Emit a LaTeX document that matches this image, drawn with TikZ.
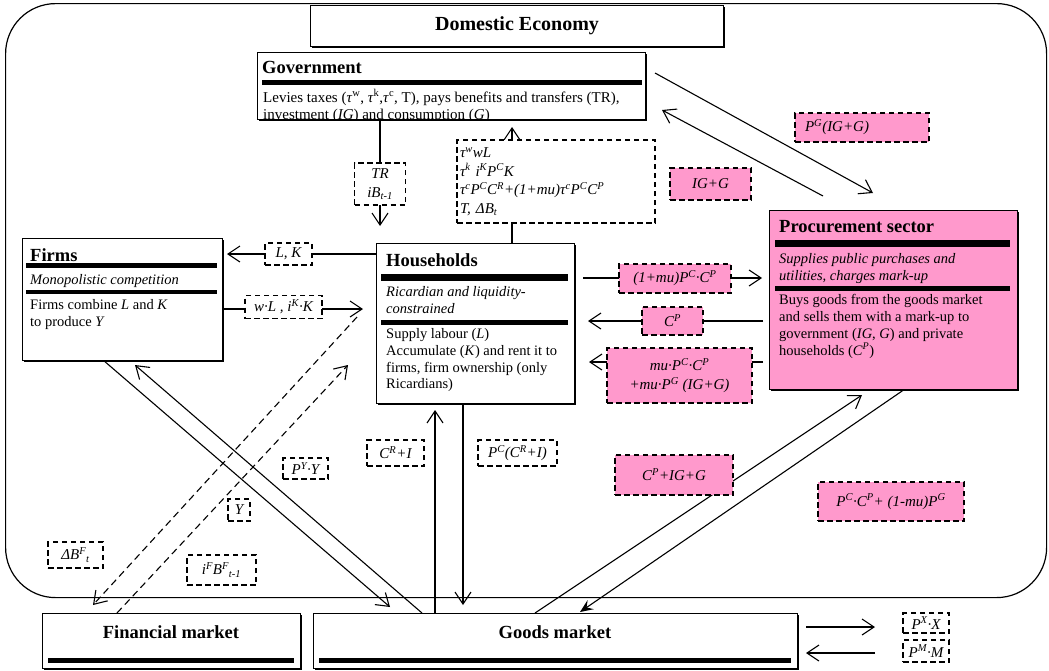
\documentclass[tikz,border=0pt]{standalone}
\usepackage{fontspec}
\setmainfont{Liberation Serif}
\usetikzlibrary{arrows.meta,shadows,calc}
\definecolor{pk}{HTML}{FF99CC}
\newcommand\supx[1]{\textsuperscript{#1}}
\newcommand\subx[1]{\textsubscript{#1}}
\pgfdeclarelayer{back}
\pgfdeclarelayer{bg}
\pgfsetlayers{back,bg,main}
\begin{document}
\begin{tikzpicture}[x=1pt,y=-1pt,
 bx/.style={draw, line width=1pt, fill=white, anchor=north west, inner sep=0pt,
   drop shadow={shadow xshift=1.6pt, shadow yshift=-1.6pt, fill=black, opacity=1}},
 ttl/.style={font=\fontsize{18.5}{21}\selectfont\bfseries, inner sep=0pt, anchor=west},
 bodyt/.style={font=\fontsize{14.5}{16.7}\selectfont, align=left, inner sep=0pt, anchor=north west},
 itt/.style={bodyt, font=\fontsize{14.5}{16.7}\selectfont\itshape},
 lbl/.style={draw, dash pattern=on 5.5pt off 3.5pt, line width=1.2pt, fill=white, inner sep=1pt,
   font=\fontsize{15}{18.7}\selectfont\itshape, align=center},
 plbl/.style={lbl, fill=pk},
 con/.style={line width=1.1pt},
 arr/.style={line width=1.1pt, -{Straight Barb[length=12pt,width=16pt,line width=1.1pt]}},
 darr/.style={arr, dash pattern=on 7pt off 4.5pt},
 parr/.style={line width=1.1pt, -{Stealth[length=13pt,width=11pt,inset=5pt]}}
]
\begin{pgfonlayer}{back}
\fill[white] (0,0) rectangle (1049,670);
\end{pgfonlayer}
\useasboundingbox (0,0) rectangle (1049,670);

% domestic economy boundary
\node[draw, line width=1.2pt, rounded corners=50pt, minimum width=1041pt, minimum height=594pt,
  anchor=north west, inner sep=0pt] (dom) at (5,3) {};
\node[bx, minimum width=413pt, minimum height=41pt, font=\fontsize{20}{22}\selectfont\bfseries]
  (de) at (310,5) {Domestic Economy};

% Government
\node[bx, minimum width=388pt, minimum height=67pt] (gov) at (257,52) {};
\node[ttl] (govT) at (262,67) {Government};
\fill (262,80) rectangle (642,85);
\begin{scope}
\clip (257,52) rectangle (645,119);
\node[bodyt, font=\fontsize{15}{17.7}\selectfont] (govB) at (263,89.5)
 {Levies taxes (\textit{τ}\supx{w}, \textit{τ}\supx{k},\textit{τ}\supx{c}, T), pays benefits and transfers (TR),\\
  investment (\textit{IG}) and consumption (\textit{G})};
\end{scope}

% Firms
\node[bx, minimum width=200pt, minimum height=122pt] (fi) at (22,238) {};
\node[ttl] (fiT) at (30,255) {Firms};
\fill (26,263) rectangle (217,268);
\node[itt] (fiI) at (30,274) {Monopolistic competition};
\fill (26,290) rectangle (217,294);
\node[bodyt] (fiB) at (30,299.5) {Firms combine \textit{L} and \textit{K}\\to produce \textit{Y}};

% Households
\node[bx, minimum width=198pt, minimum height=160pt] (hh) at (376,243) {};
\node[ttl] (hhT) at (386,260) {Households};
\fill (381,274) rectangle (568,281);
\node[itt] (hhI) at (386,286.5) {Ricardian and liquidity-\\constrained};
\fill (381,320) rectangle (568,325);
\node[bodyt] (hhB) at (386,328.5) {Supply labour (\textit{L})\\Accumulate (\textit{K}) and rent it to\\firms, firm ownership (only\\Ricardians)};

% Procurement sector
\node[bx, fill=pk, minimum width=248pt, minimum height=179pt] (pr) at (769,210) {};
\node[ttl] (prT) at (779,227) {Procurement sector};
\fill (775,240) rectangle (1010,247);
\node[itt] (prI) at (779,253.5) {Supplies public purchases and\\utilities, charges mark-up};
\fill (775,286) rectangle (1010,291);
\node[bodyt] (prB) at (779,294.5) {Buys goods from the goods market\\and sells them with a mark-up to\\government (\textit{IG}, \textit{G}) and private\\households (\textit{C}\supx{\textit{P}})};

% Markets
\node[bx, minimum width=258pt, minimum height=55pt] (fin) at (42,613) {};
\node[ttl, anchor=center] (finT) at (171,632) {Financial market};
\fill (48,658) rectangle (294,663);
\node[bx, minimum width=484pt, minimum height=55pt] (gm) at (313,613) {};
\node[ttl, anchor=center] (gmT) at (555,632) {Goods market};
\fill (319,658) rectangle (791,663);

% labels
\node[lbl, minimum width=198pt, minimum height=83pt, text width=192pt, align=left] (tax) at (556,181.5)
 {τ\supx{w}wL\\τ\supx{k} i\supx{K}P\supx{C}K\\τ\supx{c}P\supx{C}C\supx{R}+(1+mu)τ\supx{c}P\supx{C}C\supx{P}\\T, ΔB\subx{t}};
\node[lbl, minimum width=51pt, minimum height=42pt] (tr) at (380,184) {TR\\iB\subx{t-1}};
\node[lbl, minimum width=47pt, minimum height=22pt] (lk) at (288.5,254) {L, K};
\node[lbl, minimum width=77pt, minimum height=23pt] (wl) at (283.5,307) {w·L , i\supx{K}·K};
\node[lbl, minimum width=57pt, minimum height=26pt] (cri) at (395.5,453) {C\supx{R}+I};
\node[lbl, minimum width=79pt, minimum height=26pt] (pcr) at (517.5,453) {P\supx{C}(C\supx{R}+I)};
\node[lbl, minimum width=45pt, minimum height=21pt] (pyy) at (305.5,468.5) {P\supx{Y}·Y};
\node[lbl, minimum width=22pt, minimum height=22pt] (yy) at (239,510) {Y};
\node[lbl, minimum width=55pt, minimum height=26pt] (dbf) at (75.5,555) {ΔB\supx{F}\subx{t}};
\node[lbl, minimum width=69pt, minimum height=30pt] (ifb) at (221.5,570) {i\supx{F}B\supx{F}\subx{t-1}};
\node[lbl, minimum width=46pt, minimum height=20pt] (pxx) at (926,623) {P\supx{X}·X};
\node[lbl, minimum width=46pt, minimum height=22pt] (pmm) at (926,651) {P\supx{M}·M};

\node[plbl, minimum width=112pt, minimum height=29pt] (pmu1) at (675,278.5) {(1+mu)P\supx{C}·C\supx{P}};
\node[plbl, minimum width=61pt, minimum height=28pt] (pcp) at (672.5,321) {C\supx{P}};
\node[plbl, minimum width=145pt, minimum height=55pt] (pmu2) at (679.5,375.5) {mu·P\supx{C}·C\supx{P}\\+mu·P\supx{G} (IG+G)};
\node[plbl, minimum width=81pt, minimum height=32pt] (pigg) at (710.5,184) {IG+G};
\node[plbl, minimum width=134pt, minimum height=29pt, text width=114pt, align=left] (ppg) at (862,127.5) {P\supx{G}(IG+G)};
\node[plbl, minimum width=118pt, minimum height=40pt] (pcig) at (674,475) {C\supx{P}+IG+G};
\node[plbl, minimum width=146pt, minimum height=39pt] (ppc) at (891,501.5) {P\supx{C}·C\supx{P}+ (1-mu)P\supx{G}};

% free ends of connectors
\coordinate (trtip) at (380,226);
\coordinate (taxtip) at (512,127);
\coordinate (lkEnd) at (227,254);
\coordinate (wlEnd) at (363,309);
\coordinate (m1a) at (583,278);   \coordinate (m1b) at (762,278);
\coordinate (cpa) at (763,321);   \coordinate (cpb) at (588,321);
\coordinate (m2a) at (763,362);   \coordinate (m2b) at (589,362);
\coordinate (gpa) at (655,73);    \coordinate (gpb) at (873,193);
\coordinate (pga) at (823,196);   \coordinate (pgb) at (662,110);
\coordinate (fga) at (103,360);   \coordinate (fgb) at (390,607);
\coordinate (gfa) at (422,613);   \coordinate (gfb) at (135,365);
\coordinate (hfa) at (357,317);   \coordinate (hfb) at (93,605);
\coordinate (fha) at (117,613);   \coordinate (fhb) at (348,365);
\coordinate (ghb) at (435,410);
\coordinate (hgb) at (463,605);
\coordinate (gpra) at (535,613);  \coordinate (gprb) at (862,395);
\coordinate (prga) at (905,389);  \coordinate (prgb) at (580,612);
\coordinate (xa) at (806,627);    \coordinate (xb) at (875,627);
\coordinate (ma) at (875,653);    \coordinate (mb) at (806,653);

\begin{pgfonlayer}{bg}
\draw[arr] (gov.south -| trtip) -- (trtip);
\draw[con] (hh.north -| taxtip) -- (tax.south -| taxtip);
\draw[arr] (tax.north -| taxtip) -- (taxtip);
\draw[arr] (hh.west |- lkEnd) -- (lkEnd);
\draw[arr] (fi.east |- wlEnd) -- (wlEnd);
\draw[arr] (m1a) -- (m1b);
\draw[arr] (cpa) -- (cpb);
\draw[arr] (m2a) -- (m2b);
\draw[arr] (gpa) -- (gpb);
\draw[arr] (pga) -- (pgb);
\draw[arr] (fga) -- (fgb);
\draw[arr] (gfa) -- (gfb);
\draw[darr] (hfa) -- (hfb);
\draw[darr] (fha) -- (fhb);
\draw[arr] (gm.north -| ghb) -- (ghb);
\draw[arr] (hh.south -| hgb) -- (hgb);
\draw[arr] (gpra) -- (gprb);
\draw[parr] (prga) -- (prgb);
\draw[arr] (xa) -- (xb);
\draw[arr] (ma) -- (mb);
\end{pgfonlayer}
\end{tikzpicture}
\end{document}
